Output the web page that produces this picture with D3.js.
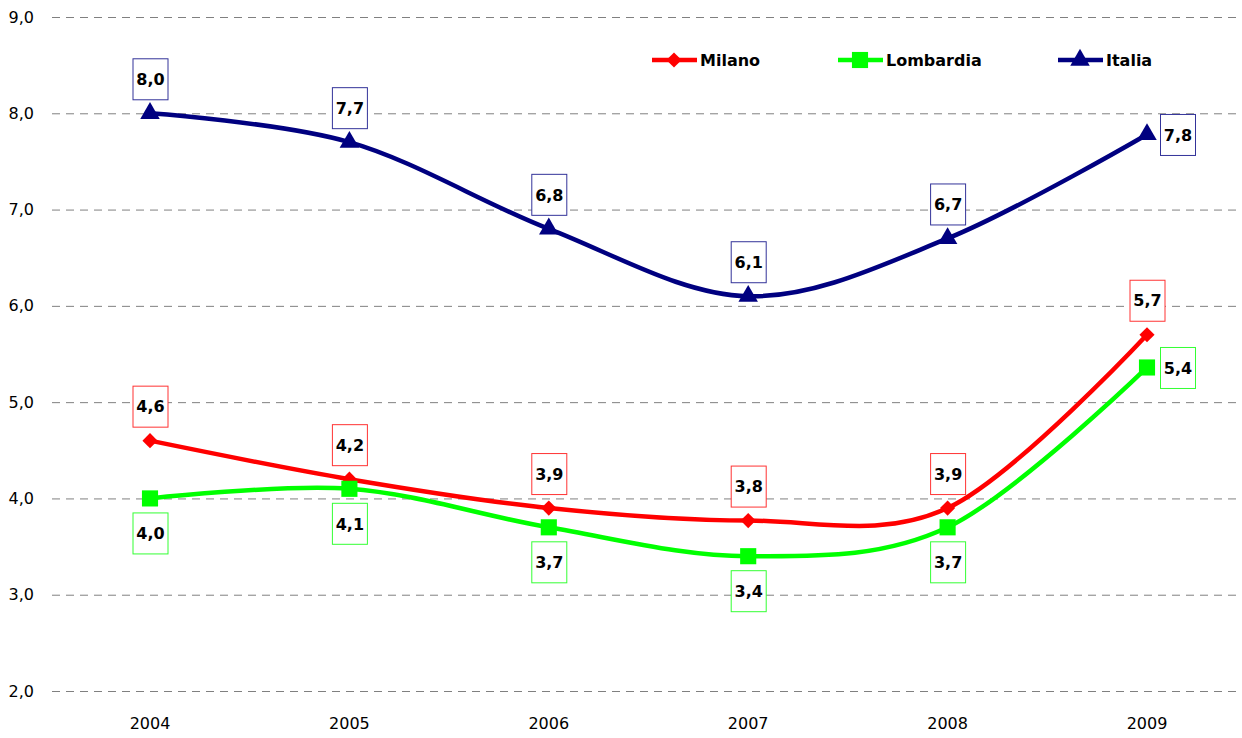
<!DOCTYPE html>
<html>
<head>
<meta charset="utf-8">
<script src="https://cdn.jsdelivr.net/npm/d3@7"></script>
<style>
  body { margin: 0; background: #fff; }
  svg { display: block; }
</style>
</head>
<body>
<div id="chart"></div>
<script>
// values
const years = [2004, 2005, 2006, 2007, 2008, 2009];
const milano = [4.6, 4.2, 3.9, 3.77, 3.9, 5.7];
const lombardia = [4.0, 4.1, 3.7, 3.4, 3.7, 5.36];
const italia = [8.0, 7.7, 6.8, 6.1, 6.7, 7.78];
const yTicks = [2, 3, 4, 5, 6, 7, 8, 9];

const width = 1242, height = 738;
const labelFont = "'Comic Sans MS', 'DejaVu Sans', sans-serif";

// series setup: colour, marker, where the value boxes go
const series = [
    { name: "Milano", values: milano, color: "#ff0000", box: "#ff3333", symbol: d3.symbolSquare, size: 115, rot: 45, place: "above", last: "above" },
    { name: "Lombardia", values: lombardia, color: "#00ff00", box: "#33ff33", symbol: d3.symbolSquare, size: 260, rot: 0, place: "below", last: "right" },
    { name: "Italia", values: italia, color: "#000080", box: "#333399", symbol: d3.symbolTriangle, size: 165, rot: 0, place: "above", last: "right" }
];

const x = d3.scaleLinear().domain([2004, 2009]).range([150, 1147]);
const y = d3.scaleLinear().domain([2, 9]).range([691, 17]);

const svg = d3.select("#chart").append("svg")
    .attr("width", width)
    .attr("height", height);

// dashed grid lines
svg.append("g").selectAll("line")
    .data(yTicks)
    .enter().append("line")
    .attr("x1", 52)
    .attr("x2", width)
    .attr("y1", d => y(d) + 0.5)
    .attr("y2", d => y(d) + 0.5)
    .attr("stroke", "#808080")
    .attr("stroke-width", 1)
    .attr("stroke-dasharray", "8,6");

// y tick labels
svg.append("g").selectAll("text")
    .data(yTicks)
    .enter().append("text")
    .attr("x", 34)
    .attr("y", d => y(d))
    .attr("dy", "0.35em")
    .attr("text-anchor", "end")
    .style("font-family", "'DejaVu Sans', Verdana, sans-serif")
    .style("font-size", "16px")
    .attr("fill", "#000")
    .text(d => d3.format(".1f")(d).replace(".", ","));

// x labels
svg.append("g").selectAll("text")
    .data(years)
    .enter().append("text")
    .attr("x", d => x(d))
    .attr("y", 723)
    .attr("dy", "0.35em")
    .attr("text-anchor", "middle")
    .style("font-family", "'DejaVu Sans', Verdana, sans-serif")
    .style("font-size", "16px")
    .attr("fill", "#000")
    .text(d => d);

const line = d3.line()
    .x((d, i) => x(years[i]))
    .y(d => y(d))
    .curve(d3.curveCardinal.tension(0));

series.forEach(s => {
    const g = svg.append("g");

    g.append("path")
        .attr("d", line(s.values))
        .attr("fill", "none")
        .attr("stroke", s.color)
        .attr("stroke-width", 4.5)
        .attr("stroke-linejoin", "round");

    g.selectAll(".marker")
        .data(s.values)
        .enter().append("path")
        .attr("class", "marker")
        .attr("d", d3.symbol().type(s.symbol).size(s.size))
        .attr("transform", (d, i) => `translate(${x(years[i])},${y(d)}) rotate(${s.rot})`)
        .attr("fill", s.color);

    // value boxes
    const bw = 35, bh = 41, gap = 14;
    const labels = g.selectAll(".lbl")
        .data(s.values)
        .enter().append("g")
        .attr("class", "lbl")
        .attr("transform", (d, i) => {
            const px = x(years[i]), py = y(d);
            const where = i === s.values.length - 1 ? s.last : s.place;
            if (where === "right") return `translate(${px + 13},${py - bh / 2})`;
            if (where === "below") return `translate(${px - bw / 2},${py + gap})`;
            return `translate(${px - bw / 2},${py - gap - bh})`;
        });

    labels.append("rect")
        .attr("x", 0.5)
        .attr("y", 0.5)
        .attr("width", bw)
        .attr("height", bh)
        .attr("fill", "#fff")
        .attr("stroke", s.box)
        .attr("stroke-width", 1);

    labels.append("text")
        .attr("x", bw / 2 + 0.5)
        .attr("y", bh / 2 + 0.5)
        .attr("dy", "0.36em")
        .attr("text-anchor", "middle")
        .style("font-family", labelFont)
        .style("font-weight", "bold")
        .style("font-size", "16px")
        .attr("fill", "#000")
        .text(d => d3.format(".1f")(d).replace(".", ","));
});

// legend
const legendX = [652, 838, 1058];
const legend = svg.append("g");
series.forEach((s, i) => {
    const lg = legend.append("g").attr("transform", `translate(${legendX[i]},60)`);
    lg.append("line")
        .attr("x1", 0).attr("x2", 45)
        .attr("y1", 0).attr("y2", 0)
        .attr("stroke", s.color)
        .attr("stroke-width", 4.5);
    lg.append("path")
        .attr("d", d3.symbol().type(s.symbol).size(s.size))
        .attr("transform", `translate(22,0) rotate(${s.rot})`)
        .attr("fill", s.color);
    lg.append("text")
        .attr("x", 48)
        .attr("y", 0)
        .attr("dy", "0.35em")
        .style("font-family", labelFont)
        .style("font-weight", "bold")
        .style("font-size", "16px")
        .attr("fill", "#000")
        .text(s.name);
});
</script>
</body>
</html>
